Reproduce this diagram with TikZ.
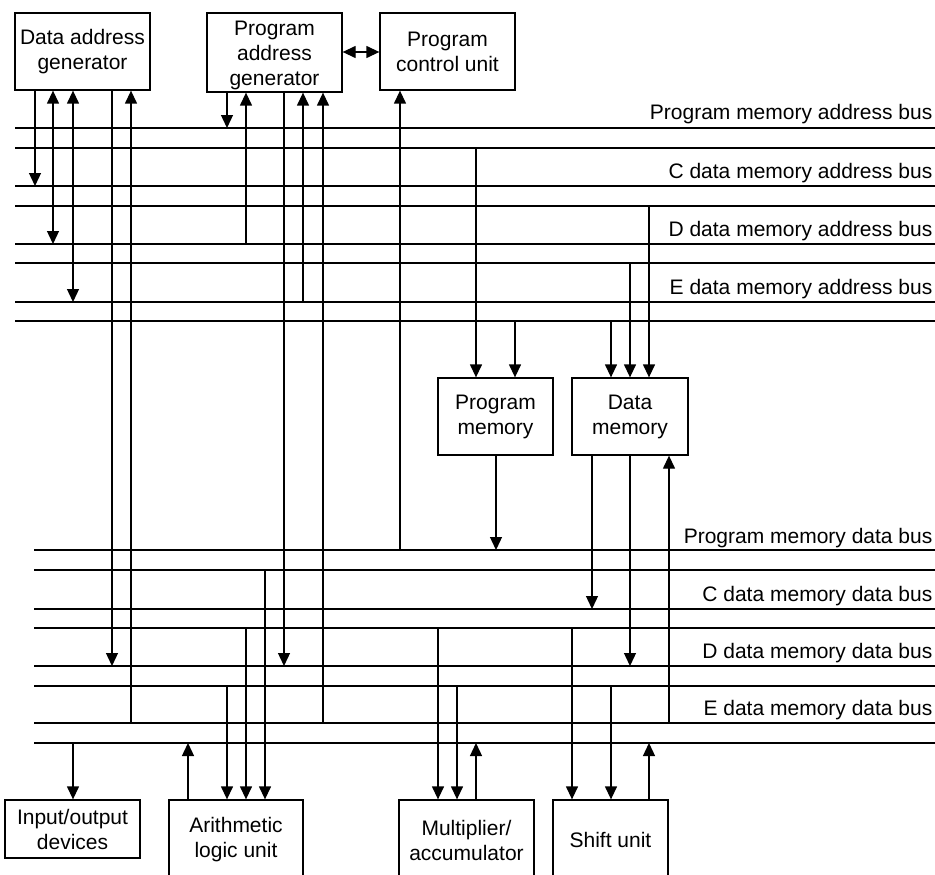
\documentclass[tikz,border=0pt]{standalone}
\usepackage{fontspec}
\setmainfont{Liberation Sans}
\usetikzlibrary{arrows.meta}
\begin{document}
\begin{tikzpicture}[x=1pt,y=-1pt,line width=1.3pt,
  box/.style={draw,rectangle,inner sep=0pt,align=center,font=\fontsize{21}{25}\selectfont},
  lbl/.style={anchor=base east,inner sep=0pt,font=\fontsize{21}{25}\selectfont},
  arr/.style={-{Triangle[length=13pt,width=12pt]}},
  darr/.style={{Triangle[length=13pt,width=12pt]}-{Triangle[length=13pt,width=12pt]}}]
\clip (0,0) rectangle (935,875);
% boxes
\node[box,minimum width=135pt,minimum height=77pt] (dag) at (82.5,51.5) {Data address\\generator};
\node[box,minimum width=135pt,minimum height=79pt] (pag) at (274.5,52.5) {};
\node[align=center,inner sep=0pt,font=\fontsize{21}{25}\selectfont] (pagt) at (274.5,55) {Program\\address\\generator};
\node[box,minimum width=135pt,minimum height=77pt] (pcu) at (447.5,51.5) {Program\\control unit};
\node[box,minimum width=115pt,minimum height=77pt] (pm) at (495.5,416.5) {Program\\memory};
\node[box,minimum width=116pt,minimum height=77pt] (dm) at (630,416.5) {Data\\memory};
\node[box,minimum width=135pt,minimum height=58pt] (io) at (72.5,829) {Input/output\\devices};
\node[box,minimum width=134pt,minimum height=80pt] (alu) at (236,840) {Arithmetic\\logic unit};
\node[box,minimum width=135pt,minimum height=80pt] (mac) at (466.5,840) {Multiplier/\\accumulator};
\node[box,minimum width=115pt,minimum height=80pt] (shu) at (610.5,840) {Shift unit};
% bus labels
\node[lbl] (l1) at (933,120) {Program memory address bus};
\node[lbl] (l2) at (933,178) {C data memory address bus};
\node[lbl] (l3) at (933,236) {D data memory address bus};
\node[lbl] (l4) at (933,294) {E data memory address bus};
\node[lbl] (l5) at (933,543) {Program memory data bus};
\node[lbl] (l6) at (933,601) {C data memory data bus};
\node[lbl] (l7) at (933,658) {D data memory data bus};
\node[lbl] (l8) at (933,715) {E data memory data bus};
% address buses
\foreach \y in {128,148,186,206,244,263,302,321}
  \draw (15,\y) -- (935,\y);
% data buses
\foreach \y in {550,570,609,628,666,686,723,743}
  \draw (34,\y) -- (935,\y);
\draw[line width=2pt] (34,550) -- (47,550);
% DAG connectors
\draw[arr] (35,0 |- dag.south) -- (35,186);
\draw[darr] (53,0 |- dag.south) -- (53,244);
\draw[darr] (73,0 |- dag.south) -- (73,302);
\draw[arr] (112,0 |- dag.south) -- (112,666);
\draw[arr] (131,723) -- (131,0 |- dag.south);
% PAG connectors
\draw[arr] (227,0 |- pag.south) -- (227,128);
\draw[arr] (246,244) -- (246,0 |- pag.south);
\draw[arr] (284,0 |- pag.south) -- (284,666);
\draw[arr] (303,302) -- (303,0 |- pag.south);
\draw[arr] (323,723) -- (323,0 |- pag.south);
\draw[darr] (pag.east |- 0,52) -- (pcu.west |- 0,52);
% PCU
\draw[arr] (400,550) -- (400,0 |- pcu.south);
% memories
\draw[arr] (476,148) -- (476,0 |- pm.north);
\draw[arr] (515,321) -- (515,0 |- pm.north);
\draw[arr] (611,321) -- (611,0 |- dm.north);
\draw[arr] (630,263) -- (630,0 |- dm.north);
\draw[arr] (649,206) -- (649,0 |- dm.north);
\draw[arr] (496,0 |- pm.south) -- (496,550);
\draw[arr] (592,0 |- dm.south) -- (592,609);
\draw[arr] (630,0 |- dm.south) -- (630,666);
\draw[arr] (669,723) -- (669,0 |- dm.south);
% bottom units
\draw[arr] (73,743) -- (73,0 |- io.north);
\draw[arr] (188,0 |- alu.north) -- (188,743);
\draw[arr] (227,686) -- (227,0 |- alu.north);
\draw[arr] (246,628) -- (246,0 |- alu.north);
\draw[arr] (265,570) -- (265,0 |- alu.north);
\draw[arr] (438,628) -- (438,0 |- mac.north);
\draw[arr] (457,686) -- (457,0 |- mac.north);
\draw[arr] (476,0 |- mac.north) -- (476,743);
\draw[arr] (572,628) -- (572,0 |- shu.north);
\draw[arr] (611,686) -- (611,0 |- shu.north);
\draw[arr] (649,0 |- shu.north) -- (649,743);
\end{tikzpicture}
\end{document}
